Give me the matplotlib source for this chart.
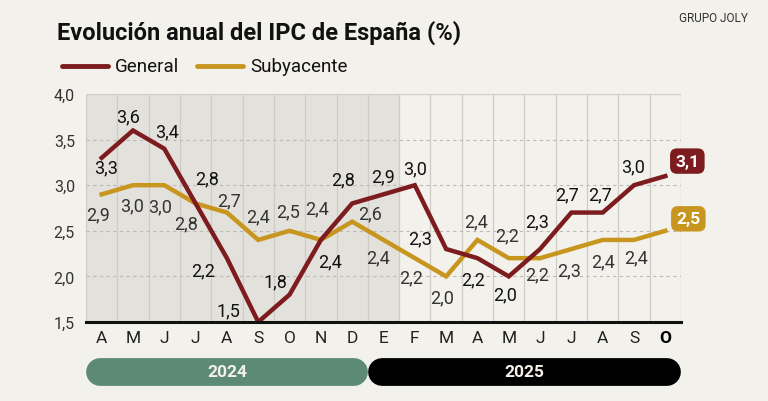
import matplotlib
matplotlib.use('Agg')
import matplotlib.pyplot as plt

plt.rcParams['font.family'] = ['Roboto', 'DejaVu Sans']

# data
months = ['A', 'M', 'J', 'J', 'A', 'S', 'O', 'N', 'D', 'E', 'F', 'M', 'A', 'M', 'J', 'J', 'A', 'S', 'O']
general = [3.3, 3.6, 3.4, 2.8, 2.2, 1.5, 1.8, 2.4, 2.8, 2.9, 3.0, 2.3, 2.2, 2.0, 2.3, 2.7, 2.7, 3.0, 3.1]
subyacente = [2.9, 3.0, 3.0, 2.8, 2.7, 2.4, 2.5, 2.4, 2.6, 2.4, 2.2, 2.0, 2.4, 2.2, 2.2, 2.3, 2.4, 2.4, 2.5]
years = ['2024', '2025']
year_start = [0, 9]
year_end = [8, 18]

# label offsets in pixels (dx, dy)
off_gen = [(4, -10), (-5, 14), (3, 17), (11, 25), (-24, -12), (-30, 12), (-14, 13), (9, -21), (-9, 24),
           (0, 18), (0, 17), (-26, 11), (-4, -21), (-4, -18), (-3, 28), (-4, 18), (-3, 18), (-1, 19)]
off_sub = [(-4, -20), (-1, -20), (-4, -21), (-10, -20), (2, 12), (0, 24), (-1, 19), (-4, 32), (18, 8),
           (-5, -17), (-4, -19), (-4, -21), (-1, 19), (-2, 23), (-3, -16), (-2, -21), (0, -21), (2, -17)]

BG = '#f3f1ec'
RED = '#7d1c1e'
GOLD = '#c8961f'
W, H = 768, 402

fig = plt.figure(figsize=(W / 100, H / 100), dpi=100, facecolor=BG)

def px_axes(x0, y0, x1, y1):
    return fig.add_axes([x0 / W, 1 - y1 / H, (x1 - x0) / W, (y1 - y0) / H])

ax = px_axes(86, 95, 681, 323)
ax.set_facecolor(BG)
n = len(months)
x = list(range(n))
ax.set_xlim(-0.5, n - 0.5)
ax.set_ylim(1.5, 4.0)
ax.axvspan(-0.5, 9.5, color='#e3e1dc', zorder=0, lw=0)
for k in range(n + 1):
    ax.axvline(k - 0.5, color='#cfccc7', lw=0.9, zorder=1)
for v in [2.0, 2.5, 3.0, 3.5]:
    ax.axhline(v, color='#bdbab5', lw=0.8, ls=(0, (3, 3)), zorder=1)
ax.axhline(4.0, color='#cfccc7', lw=0.9, zorder=1)
for s in ['top', 'right', 'left']:
    ax.spines[s].set_visible(False)
ax.spines['bottom'].set_linewidth(2.2)
ax.spines['bottom'].set_color('#111111')
ax.spines['bottom'].set_zorder(5)

ax.plot(x, subyacente, color=GOLD, lw=3.2, zorder=3, solid_joinstyle='miter')
ax.plot(x, general, color=RED, lw=3.2, zorder=4, solid_joinstyle='miter')

ax.set_yticks([1.5, 2.0, 2.5, 3.0, 3.5, 4.0])
ax.set_yticklabels([f'{v:.1f}'.replace('.', ',') for v in [1.5, 2.0, 2.5, 3.0, 3.5, 4.0]],
                   fontsize=11.5, color='#333333')
ax.set_xticks(x)
ax.set_xticklabels(months, fontsize=12.5, color='#222222')
ax.get_xticklabels()[-1].set_fontweight('bold')
ax.get_xticklabels()[-1].set_color('#000000')
ax.tick_params(axis='both', length=0)
ax.tick_params(axis='y', pad=8)
ax.tick_params(axis='x', pad=6)

fmt = lambda v: f'{v:.1f}'.replace('.', ',')
for i in range(n - 1):
    ax.annotate(fmt(general[i]), (i, general[i]), xytext=off_gen[i], textcoords='offset pixels',
                ha='center', va='center', fontsize=13, color='#111111', zorder=6)
    ax.annotate(fmt(subyacente[i]), (i, subyacente[i]), xytext=off_sub[i], textcoords='offset pixels',
                ha='center', va='center', fontsize=13, color='#333333', zorder=6)

for vals, col, off in [(general, RED, (22, 15)), (subyacente, GOLD, (23, 12))]:
    ax.annotate(fmt(vals[-1]), (n - 1, vals[-1]), xytext=off, textcoords='offset pixels',
                ha='center', va='center', fontsize=12.5, fontweight='bold', color='white', zorder=7,
                annotation_clip=False,
                bbox=dict(boxstyle='round,pad=0.3,rounding_size=0.4', fc=col, ec='none'))

# year bars
pax = px_axes(86, 359, 681, 387)
pax.set_xlim(-0.5, n - 0.5)
pax.set_ylim(0, 1)
pax.axis('off')
for yr, a, b, col in zip(years, year_start, year_end, ['#5c8a73', '#000000']):
    pax.plot([a - 0.05, b + 0.05], [0.5, 0.5], color=col, lw=20, solid_capstyle='round', clip_on=False)
    pax.text((a + b) / 2, 0.5, yr, ha='center', va='center', fontsize=12.5, fontweight='bold',
             color='#f4f1ea')

# title, legend, credit
fig.text(57 / W, 1 - 33 / H, 'Evolución anual del IPC de España (%)', fontsize=17, fontweight='bold',
         color='#111111', ha='left', va='center')
fig.text(748 / W, 1 - 18 / H, 'GRUPO JOLY', fontsize=8.5, color='#333333', ha='right', va='center')
fig.add_artist(plt.Line2D([62 / W, 108 / W], [1 - 67 / H, 1 - 67 / H], color=RED, lw=3.5,
                          solid_capstyle='round'))
fig.text(115 / W, 1 - 67 / H, 'General', fontsize=13.5, color='#111111', ha='left', va='center')
fig.add_artist(plt.Line2D([197 / W, 243 / W], [1 - 67 / H, 1 - 67 / H], color=GOLD, lw=3.5,
                          solid_capstyle='round'))
fig.text(250 / W, 1 - 67 / H, 'Subyacente', fontsize=13.5, color='#111111', ha='left', va='center')

fig.savefig('out.png', dpi=100, facecolor=BG)
